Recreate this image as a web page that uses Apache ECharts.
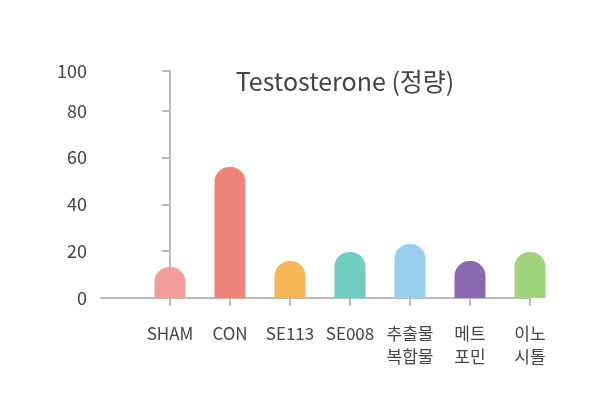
<!DOCTYPE html>
<html>
<head>
<meta charset="utf-8">
<script src="https://cdn.jsdelivr.net/npm/echarts@6/dist/echarts.min.js"></script>
<style>html,body{margin:0;background:#fff}#main{width:605px;height:410px}</style>
</head>
<body>
<div id="main"></div>
<script>
// 카테고리 / 값
var categories = ['SHAM', 'CON', 'SE113', 'SE008', '추출물\n복합물', '메트\n포민', '이노\n시톨'];
var values = [13.3, 56, 15.8, 19.7, 23.1, 15.8, 19.7];
var colors = ['#f29c9c', '#ec847b', '#f7b654', '#71cbbe', '#99cfec', '#8b69b0', '#9fd37c'];
var yTicks = [0, 20, 40, 60, 80, 100];

var chart = echarts.init(document.getElementById('main'));
var font = 'Noto Sans CJK KR';
chart.setOption({
    animation: false,
    title: {
        text: 'Testosterone (정량)',
        left: 340, top: 64, textAlign: 'center',
        textStyle: {fontFamily: font, fontSize: 25, fontWeight: 'normal', color: '#444'}
    },
    grid: {left: 101, right: 75, top: 71, bottom: 112},
    xAxis: {
        type: 'value', min: -1.15, max: 6,
        splitLine: {show: false},
        axisLine: {show: true, onZero: false, lineStyle: {color: '#bbb', width: 2}},
        axisTick: {show: true, customValues: [0, 1, 2, 3, 4, 5, 6], length: 8, lineStyle: {color: '#bbb', width: 2}},
        axisLabel: {
            customValues: [0, 1, 2, 3, 4, 5, 6], margin: 24,
            formatter: function (v) { return categories[Math.round(v)]; },
            fontFamily: font, fontSize: 17, color: '#444', lineHeight: 23, verticalAlign: 'top'
        }
    },
    yAxis: {
        type: 'value', min: 0, max: 97,
        splitLine: {show: false},
        axisLine: {show: true, lineStyle: {color: '#bbb', width: 2}},
        axisTick: {show: true, customValues: [0, 20, 40, 60, 80, 97], inside: false, length: 8, lineStyle: {color: '#bbb', width: 2}},
        axisLabel: {
            customValues: [0, 20, 40, 60, 80, 97],
            formatter: function (v) { return v >= 97 ? String(yTicks[5]) : String(v); },
            fontFamily: font, fontSize: 18, color: '#444', margin: 14
        }
    },
    series: [{
        type: 'bar',
        barWidth: 31,
        data: values.map(function (v, i) {
            return {value: [i, v], itemStyle: {color: colors[i], borderRadius: [15, 15, 0, 0]}};
        })
    }]
});
</script>
</body>
</html>
